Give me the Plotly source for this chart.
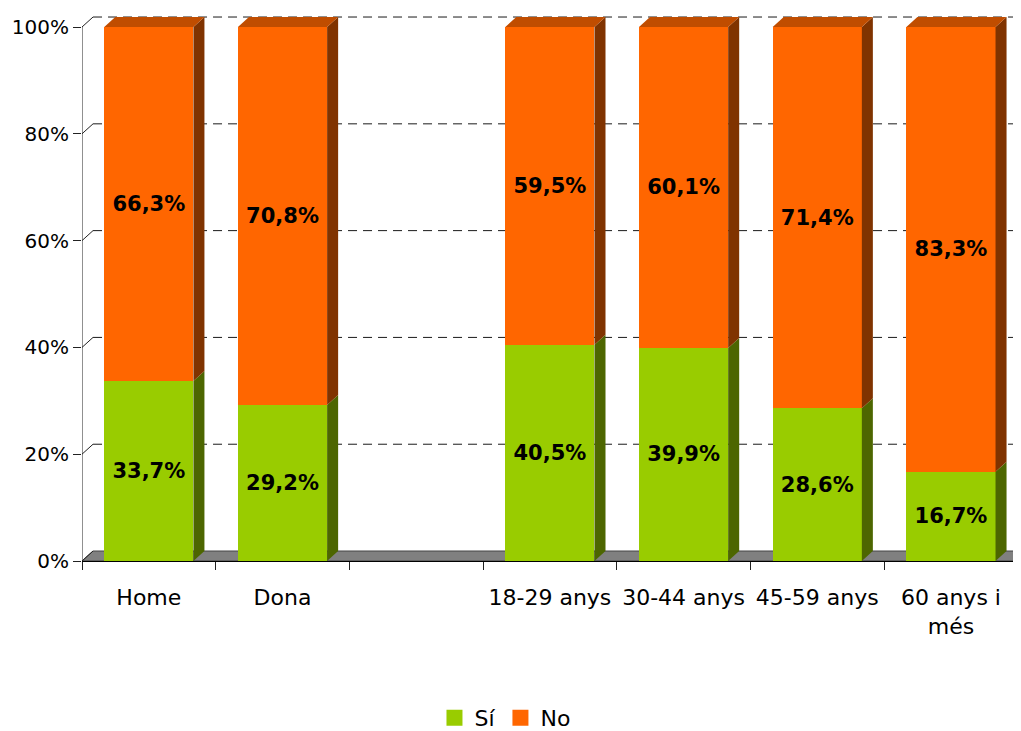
import plotly.graph_objects as go

# ── Data ──────────────────────────────────────────────────────────────────────
categories = ["Home", "Dona", "", "18-29 anys", "30-44 anys", "45-59 anys", "60 anys i<br>més"]
si = [33.7, 29.2, None, 40.5, 39.9, 28.6, 16.7]
no = [66.3, 70.8, None, 59.5, 60.1, 71.4, 83.3]
y_ticks = [0, 20, 40, 60, 80, 100]

# ── Style ─────────────────────────────────────────────────────────────────────
GREEN, GREEN_SIDE = "#99CC00", "#4D6600"
ORANGE, ORANGE_SIDE, ORANGE_TOP = "#FF6600", "#803300", "#C04D00"
FONT = "DejaVu Sans"
BAR_W = 0.667
DX, DY = 0.0824, 1.87          # 3D depth offset in data units
X_MIN, X_MAX = -0.5, 6.524

x = list(range(len(categories)))


def fmt(v):
    return f"{v:.1f}%".replace(".", ",")


def side_faces(bottoms, tops):
    xs, ys = [], []
    for xi, b, t in zip(x, bottoms, tops):
        if b is None or t is None:
            continue
        xr = xi + BAR_W / 2
        xs += [xr, xr + DX, xr + DX, xr, xr, None]
        ys += [b, b + DY, t + DY, t, b, None]
    return xs, ys


def top_faces(tops):
    xs, ys = [], []
    for xi, t in zip(x, tops):
        if t is None:
            continue
        xl, xr = xi - BAR_W / 2, xi + BAR_W / 2
        xs += [xl, xl + DX, xr + DX, xr, xl, None]
        ys += [t, t + DY, t + DY, t, t, None]
    return xs, ys


totals = [None if a is None else a + b for a, b in zip(si, no)]

fig = go.Figure()

# ── Front faces ───────────────────────────────────────────────────────────────
fig.add_trace(go.Bar(
    x=x, y=si, name="Sí", width=BAR_W,
    marker=dict(color=GREEN, line=dict(width=0)),
    text=[None if v is None else fmt(v) for v in si],
    textposition="inside", insidetextanchor="middle",
    textfont=dict(family=FONT, size=21, color="black", weight="bold"),
    showlegend=False, hoverinfo="skip",
))
fig.add_trace(go.Bar(
    x=x, y=no, name="No", width=BAR_W,
    marker=dict(color=ORANGE, line=dict(width=0)),
    text=[None if v is None else fmt(v) for v in no],
    textposition="inside", insidetextanchor="middle",
    textfont=dict(family=FONT, size=21, color="black", weight="bold"),
    showlegend=False, hoverinfo="skip",
))

# ── Side and top faces ────────────────────────────────────────────────────────
sx, sy = side_faces([0 if v is not None else None for v in si], si)
fig.add_trace(go.Scatter(x=sx, y=sy, mode="lines", fill="toself",
                         fillcolor=GREEN_SIDE, line=dict(width=0),
                         showlegend=False, hoverinfo="skip"))
sx, sy = side_faces(si, totals)
fig.add_trace(go.Scatter(x=sx, y=sy, mode="lines", fill="toself",
                         fillcolor=ORANGE_SIDE, line=dict(width=0),
                         showlegend=False, hoverinfo="skip"))
tx, ty = top_faces(totals)
fig.add_trace(go.Scatter(x=tx, y=ty, mode="lines", fill="toself",
                         fillcolor=ORANGE_TOP, line=dict(width=0),
                         showlegend=False, hoverinfo="skip"))

# legend entries
for name, col in [("Sí", GREEN), ("No", ORANGE)]:
    fig.add_trace(go.Scatter(x=[None], y=[None], mode="markers", name=name,
                             marker=dict(symbol="square", size=16, color=col)))

# ── Floor, back-wall grid, axis connectors ────────────────────────────────────
shapes = [dict(
    type="path", layer="below", xref="x", yref="y",
    path=f"M{X_MIN},0 L{X_MAX},0 L{X_MAX + DX},{DY} L{X_MIN + DX},{DY} Z",
    fillcolor="#808080", line=dict(color="#444444", width=1),
)]
for v in y_ticks:
    if v > 0:
        shapes.append(dict(type="line", layer="below", xref="x", yref="y",
                           x0=X_MIN + DX, x1=X_MAX + DX, y0=v + DY, y1=v + DY,
                           line=dict(color="#1a1a1a", width=1, dash="9px,6px")))
    shapes.append(dict(type="line", layer="below", xref="x", yref="y",
                       x0=X_MIN, x1=X_MIN + DX, y0=v, y1=v + DY,
                       line=dict(color="#222222", width=1)))
shapes.append(dict(type="line", layer="above", xref="x", yref="y",
                   x0=X_MIN, x1=X_MIN, y0=0, y1=100,
                   line=dict(color="#222222", width=1)))

# ── Layout ────────────────────────────────────────────────────────────────────
# page body has an 8px margin, so the figure is 8px smaller on each axis
fig.update_layout(
    barmode="stack",
    width=1013, height=723,
    margin=dict(l=74, r=0, t=7, b=170),
    plot_bgcolor="white", paper_bgcolor="white",
    font=dict(family=FONT, color="black"),
    shapes=shapes,
    xaxis=dict(
        range=[X_MIN, X_MAX], automargin=False,
        tickmode="array", tickvals=x, ticktext=categories,
        ticks="", showgrid=False, zeroline=False,
        showline=True, linecolor="black", linewidth=1,
        tickfont=dict(size=22, family=FONT),
        ticklabelstandoff=17,
        minor=dict(tickmode="array",
                   tickvals=[i - 0.5 for i in range(len(categories) + 1)],
                   ticks="outside", ticklen=8, tickcolor="#222222", showgrid=False),
    ),
    yaxis=dict(
        range=[0, 102.25], automargin=False,
        tickmode="array", tickvals=y_ticks,
        ticktext=[f"{v}%" for v in y_ticks],
        ticks="outside", ticklen=8, tickcolor="#222222",
        showgrid=False, zeroline=False, showline=False,
        tickfont=dict(size=20, family=FONT),
    ),
    legend=dict(
        orientation="h", traceorder="normal",
        xref="container", yref="container",
        x=0.4906, xanchor="center", y=0.047, yanchor="top",
        font=dict(size=22, family=FONT),
        itemwidth=30,
    ),
)

fig.write_html("out.html")
